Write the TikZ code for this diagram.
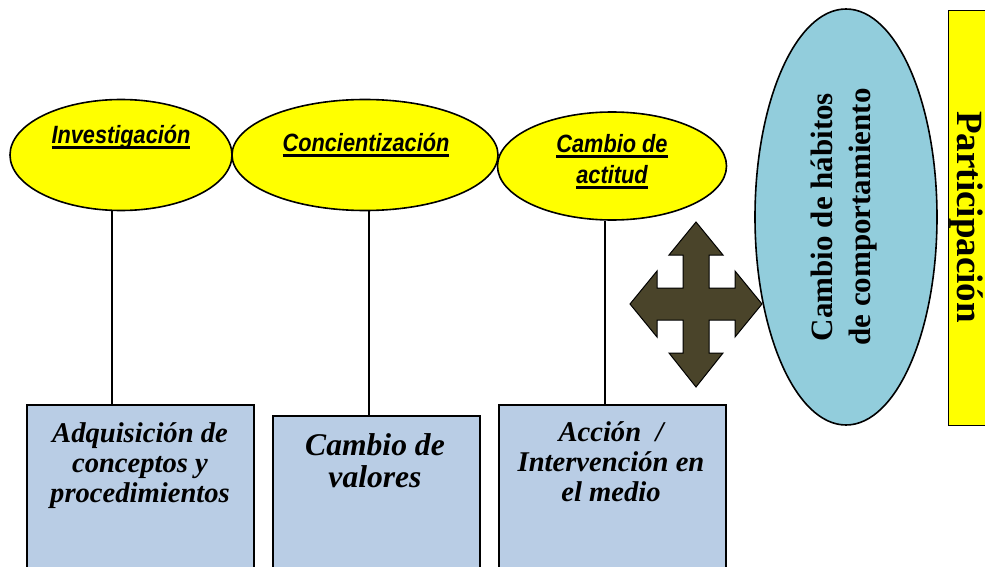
\documentclass[tikz,border=0pt]{standalone}
\usepackage{fontspec}
\setmainfont{Liberation Serif}
\newfontfamily\arialfont[FakeStretch=0.87]{Liberation Sans}
\newcommand{\subraya}[1]{\setbox0\hbox{#1}\rlap{\rule[-6pt]{\wd0}{3pt}}\box0}
\usetikzlibrary{shapes.geometric}
\definecolor{amarillo}{HTML}{FFFF00}
\definecolor{celeste}{HTML}{92CDDC}
\definecolor{azulcaja}{HTML}{B9CDE5}
\definecolor{oliva}{HTML}{4A442A}
\begin{document}
\begin{tikzpicture}[x=1pt, y=-1pt,
	etapa/.style={ellipse, draw, line width=1.6pt, fill=amarillo, inner sep=0pt},
	etiqueta/.style={font=\arialfont\bfseries\itshape\fontsize{25}{31}\selectfont, align=center, inner sep=0pt},
	caja/.style={draw, line width=1.6pt, fill=azulcaja, anchor=north west, inner sep=0pt},
	logro/.style={font=\bfseries\itshape\fontsize{28.6}{30}\selectfont, align=center, inner sep=0pt, anchor=north}]
		\clip (0,0) rectangle (985,567);
		\fill[white] (0,0) rectangle (985,567);
		
		\node[etapa, minimum width=222pt, minimum height=111pt] (inv) at (121,155) {};
		\node[etapa, minimum width=266pt, minimum height=111pt] (con) at (365,155) {};
		\node[etapa, minimum width=229pt, minimum height=108pt] (act) at (612,166) {};
		
		\node[etiqueta, anchor=base] (invt) at (121,143) {\subraya{Investigación}};
		\node[etiqueta, anchor=base] (cont) at (366,151) {\subraya{Concientización}};
		\node[etiqueta, anchor=north] (actt) at (612,134) {\subraya{Cambio de}\\\subraya{actitud}};
		
		\node[caja, minimum width=227pt, minimum height=180pt] (adq) at (26,404) {};
		\node[caja, minimum width=207pt, minimum height=170pt] (val) at (272,415) {};
		\node[caja, minimum width=227pt, minimum height=180pt] (acc) at (498,404) {};
		
		\node[logro] (adqt) at (140,422) {Adquisición de\\conceptos y\\procedimientos};
		\node[logro, font=\bfseries\itshape\fontsize{31.6}{32}\selectfont] (valt) at (375,433) {Cambio de\\valores};
		\node[logro] (acct) at (611,421) {Acción~~/\\Intervención en\\el medio};
		
		\draw[line width=1.2pt] ([xshift=-9pt]inv.south) -- ([xshift=-9pt]inv.south |- adq.north);
		\draw[line width=1.2pt] ([xshift=4pt]con.south) -- ([xshift=4pt]con.south |- val.north);
		\draw[line width=1.2pt] ([xshift=-7pt]act.south) -- ([xshift=-7pt]act.south |- acc.north);
		
		% flecha de cuatro puntas
		\filldraw[fill=oliva, draw=black, line width=1pt, shift={(696,304)}]
			(0,-82) -- (27,-49) -- (13,-49) -- (13,-16) -- (39,-16) -- (39,-33) -- (66,0)
			-- (39,33) -- (39,16) -- (13,16) -- (13,49) -- (27,49) -- (0,83)
			-- (-27,49) -- (-13,49) -- (-13,16) -- (-39,16) -- (-39,33) -- (-66,0)
			-- (-39,-33) -- (-39,-16) -- (-13,-16) -- (-13,-49) -- (-27,-49) -- cycle;
		
		\node[ellipse, draw, line width=1.6pt, fill=celeste, minimum width=182pt, minimum height=416pt, inner sep=0pt] (hab) at (846,217) {};
		\node[rotate=90, font=\bfseries\fontsize{31}{38}\selectfont, align=center, inner sep=0pt] (habt) at (844,217) {Cambio de hábitos\\de comportamiento};
		
		\node[draw, fill=amarillo, line width=1.4pt, anchor=north west, minimum width=60pt, minimum height=415pt, inner sep=0pt] (par) at (948,10) {};
		\node[rotate=-90, anchor=base, font=\bfseries\fontsize{37}{40}\selectfont, inner sep=0pt] (part) at (957,217) {Participación};
	\end{tikzpicture}
\end{document}
